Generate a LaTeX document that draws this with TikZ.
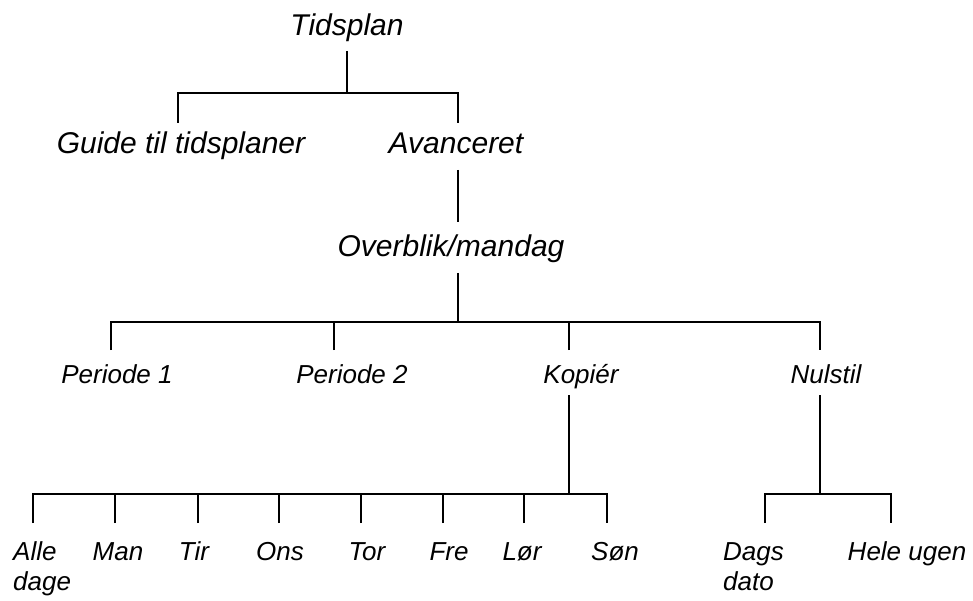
\documentclass[tikz,border=0pt]{standalone}
\usepackage{fontspec}
\setmainfont{Liberation Sans}
\usepackage{tikz}
\usetikzlibrary{positioning,calc}

\begin{document}
\begin{tikzpicture}[
  x=1pt,y=-1pt,
  big/.style={font=\fontsize{30}{34}\selectfont\itshape,anchor=base,inner sep=0pt},
  item/.style={font=\fontsize{26}{30}\selectfont\itshape,anchor=base,inner sep=0pt},
  link/.style={line width=2.8pt,line join=miter}
]
\useasboundingbox (0,0) rectangle (973,601);
% upper levels
\node[big] (tids) at (347,36) {Tidsplan};
\node[big] (guide) at (181,154) {Guide til tidsplaner};
\node[big] (avan) at (456,154) {Avanceret};
\node[big] (ovr) at (451,257) {Overblik/mandag};
% menu row
\node[item] (per1) at (117,383) {Periode 1};
\node[item] (per2) at (352,383) {Periode 2};
\node[item] (kop) at (581,383) {Kopiér};
\node[item] (nul) at (826,383) {Nulstil};
% days + reset (two-line nodes sit on their last line)
\node[item,align=left,anchor=base west] (alle) at (13,590) {Alle\\dage};
\node[item] (man) at (118,560) {Man};
\node[item] (tir) at (194,560) {Tir};
\node[item] (ons) at (280,560) {Ons};
\node[item] (tor) at (367,560) {Tor};
\node[item] (fre) at (449,560) {Fre};
\node[item] (lor) at (522,560) {Lør};
\node[item] (son) at (615,560) {Søn};
\node[item,align=left,anchor=base west] (dags) at (723,590) {Dags\\dato};
\node[item] (hele) at (907,560) {Hele ugen};

\draw[link] ([yshift=-15pt]tids.base) -- ++(0,42) coordinate (j1);
\draw[link] ([xshift=-3pt,yshift=31pt]guide.base) |- (j1) -| ([xshift=2pt,yshift=31pt]avan.base);
\draw[link] ([xshift=2pt,yshift=-16pt]avan.base) -- ([xshift=7pt,yshift=35pt]ovr.base);

\draw[link] ([xshift=7pt,yshift=-16pt]ovr.base) -- ++(0,49) coordinate (j2);
\draw[link] ([xshift=-6pt,yshift=33pt]per1.base) |- (j2) -| ([xshift=-6pt,yshift=33pt]nul.base);
\draw[link] ([xshift=-18pt,yshift=33pt]per2.base) -- ++(0,-28);
\draw[link] ([xshift=-12pt,yshift=33pt]kop.base) -- ++(0,-28);

\draw[link] ([xshift=-12pt,yshift=-12pt]kop.base) -- ++(0,99) coordinate (j3);
\draw[link] ([xshift=20pt,yshift=67pt]alle.base west) |- (j3) -| ([xshift=-8pt,yshift=37pt]son.base);
\foreach \d/\s in {man/-3,tir/4,ons/-1,tor/-6,fre/-6,lor/2}
  \draw[link] ([xshift=\s pt,yshift=37pt]\d.base) -- ++(0,-29);

\draw[link] ([xshift=-6pt,yshift=-12pt]nul.base) -- ++(0,99) coordinate (j4);
\draw[link] ([xshift=42pt,yshift=67pt]dags.base west) |- (j4) -| ([xshift=-16pt,yshift=37pt]hele.base);
\end{tikzpicture}
\end{document}
